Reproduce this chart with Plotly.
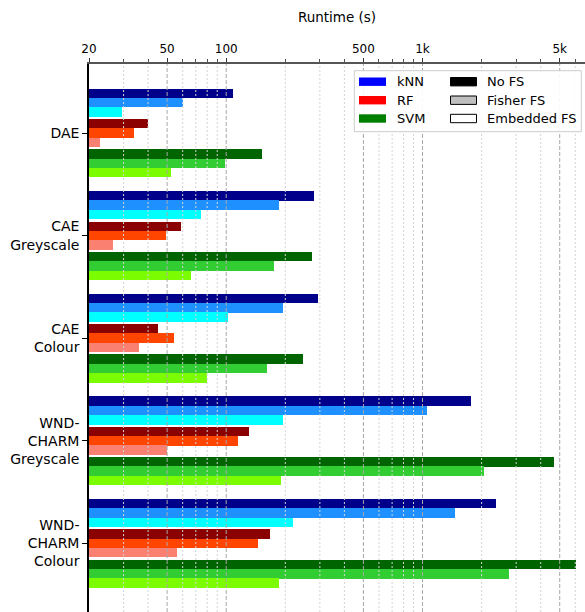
import math
import plotly.graph_objects as go

# ---------------- data ----------------
groups = ["DAE", "CAE<br>Greyscale", "CAE<br>Colour",
          "WND-<br>CHARM<br>Greyscale", "WND-<br>CHARM<br>Colour"]

knn_nofs = [108, 280, 293, 1765, 2364]
knn_fisher = [60, 186, 194, 1055, 1459]
knn_emb = [29.3, 74, 102, 195, 219]
rf_nofs = [40, 59, 45, 130, 168]
rf_fisher = [34, 49.6, 54, 115.5, 146]
rf_emb = [22.8, 26.5, 36, 50, 56.4]
svm_nofs = [153, 273, 247, 4694, 6050]
svm_fisher = [98.4, 176, 162, 2064, 2752]
svm_emb = [52.6, 66, 80, 191, 186]

classifiers = ["kNN", "RF", "SVM"]
fs_methods = ["No FS", "Fisher FS", "Embedded FS"]
series = {
    ("kNN", "No FS"): knn_nofs, ("kNN", "Fisher FS"): knn_fisher, ("kNN", "Embedded FS"): knn_emb,
    ("RF", "No FS"): rf_nofs, ("RF", "Fisher FS"): rf_fisher, ("RF", "Embedded FS"): rf_emb,
    ("SVM", "No FS"): svm_nofs, ("SVM", "Fisher FS"): svm_fisher, ("SVM", "Embedded FS"): svm_emb,
}

major_ticks = [20, 50, 100, 500, 1000, 5000]
major_text = ["20", "50", "100", "500", "1k", "5k"]
minor_ticks = [30, 40, 60, 70, 80, 90, 200, 300, 400, 600, 700, 800, 900,
               2000, 3000, 4000, 6000]

# ---------------- styles ----------------
colors = {
    ("kNN", "No FS"): "#00008B", ("kNN", "Fisher FS"): "#1E90FF", ("kNN", "Embedded FS"): "#00FFFF",
    ("RF", "No FS"): "#8B0000", ("RF", "Fisher FS"): "#FF4500", ("RF", "Embedded FS"): "#FA8072",
    ("SVM", "No FS"): "#006400", ("SVM", "Fisher FS"): "#32CD32", ("SVM", "Embedded FS"): "#7CFC00",
}
cls_offset = {"kNN": -0.296, "RF": 0.0, "SVM": 0.296}
fs_offset = {"No FS": -0.0911, "Fisher FS": 0.0, "Embedded FS": 0.0911}
bar_w = 0.0925

W, H = 585, 612
L, T, R, B = 89, 64, 0, 0
PW, PH = W - L - R, H - T - B
px_per_dec = 196.3
x_lo = math.log10(20)
x_hi = x_lo + PW / px_per_dec
grp_px = 102.6
y_top = (T - 133) / grp_px
y_bot = (H - 133) / grp_px

FONT = "DejaVu Sans"

fig = go.Figure()
for c in classifiers:
    for f in fs_methods:
        vals = series[(c, f)]
        fig.add_trace(go.Bar(
            x=vals,
            y=[i + cls_offset[c] + fs_offset[f] for i in range(len(groups))],
            orientation="h",
            width=bar_w,
            marker=dict(color=colors[(c, f)], line=dict(width=0)),
            name=f"{c} {f}",
            showlegend=False,
        ))


def xdom(v):
    return (math.log10(v) - x_lo) / (x_hi - x_lo)


shapes = []
# grid lines (drawn above bars like the reference)
for v in major_ticks[1:]:
    shapes.append(dict(type="line", xref="x domain", yref="paper",
                       x0=xdom(v), x1=xdom(v), y0=0, y1=1,
                       line=dict(color="#a8a8a8", width=1, dash="4px,2px"),
                       layer="above"))
for v in minor_ticks:
    shapes.append(dict(type="line", xref="x domain", yref="paper",
                       x0=xdom(v), x1=xdom(v), y0=0, y1=1,
                       line=dict(color="#d4d4d4", width=1, dash="2px,2px"),
                       layer="above"))


def pxx(x):
    return (x - L) / PW


def pxy(y):
    return (H - B - y) / PH


# legend box
shapes.append(dict(type="rect", xref="paper", yref="paper",
                   x0=pxx(354.3), x1=pxx(581.3), y0=pxy(131.7), y1=pxy(70.7),
                   line=dict(color="#cccccc", width=1),
                   fillcolor="rgba(255,255,255,0.9)", layer="above"))
row_y = [81.7, 100.2, 118.5]
leg_cls_colors = ["#0000FF", "#FF0000", "#008000"]
leg_fs = [("#000000", "#000000"), ("#BFBFBF", "#000000"), ("#FFFFFF", "#000000")]
annotations = []
for k in range(3):
    y0, y1 = row_y[k] - 4.2, row_y[k] + 4.2
    shapes.append(dict(type="rect", xref="paper", yref="paper",
                       x0=pxx(359), x1=pxx(386), y0=pxy(y1), y1=pxy(y0),
                       line=dict(width=0), fillcolor=leg_cls_colors[k], layer="above"))
    shapes.append(dict(type="rect", xref="paper", yref="paper",
                       x0=pxx(450.5), x1=pxx(476.5), y0=pxy(y1), y1=pxy(y0),
                       line=dict(width=1, color=leg_fs[k][1]), fillcolor=leg_fs[k][0],
                       layer="above"))
    annotations.append(dict(xref="paper", yref="paper", x=pxx(395), y=pxy(row_y[k]),
                            xanchor="left", yanchor="middle", showarrow=False,
                            text=classifiers[k],
                            font=dict(family=FONT, size=13, color="black")))
    annotations.append(dict(xref="paper", yref="paper", x=pxx(485), y=pxy(row_y[k]),
                            xanchor="left", yanchor="middle", showarrow=False,
                            text=fs_methods[k],
                            font=dict(family=FONT, size=13, color="black")))

fig.update_layout(
    width=W, height=H,
    margin=dict(l=L, r=R, t=T, b=B, pad=0),
    paper_bgcolor="white", plot_bgcolor="white",
    font=dict(family=FONT, color="black"),
    bargap=0,
    shapes=shapes,
    annotations=annotations,
    xaxis=dict(
        type="log", side="top", range=[x_lo, x_hi],
        tickmode="array", tickvals=major_ticks, ticktext=major_text,
        tickfont=dict(family=FONT, size=12, color="black"),
        ticks="outside", ticklen=4, tickwidth=1, tickcolor="#333333",
        showgrid=False, zeroline=False, automargin=False,
        showline=True, linecolor="#555555", linewidth=1.5,
        minor=dict(tickmode="array", tickvals=minor_ticks, ticks="outside",
                   ticklen=3, tickwidth=1, tickcolor="#555555", showgrid=False),
        title=dict(text="Runtime (s)", font=dict(family=FONT, size=13.5, color="black"),
                   standoff=17),
    ),
    yaxis=dict(
        range=[y_bot, y_top], automargin=False,
        tickmode="array", tickvals=list(range(len(groups))), ticktext=groups,
        tickfont=dict(family=FONT, size=14, color="black"),
        ticks="outside", ticklen=5, tickwidth=1, tickcolor="black",
        showgrid=False, zeroline=False,
        showline=True, linecolor="black", linewidth=1.5,
    ),
)

fig.write_html("out.html", config={"displayModeBar": False},
               post_script="document.body.style.margin='0';document.body.style.padding='0';")
